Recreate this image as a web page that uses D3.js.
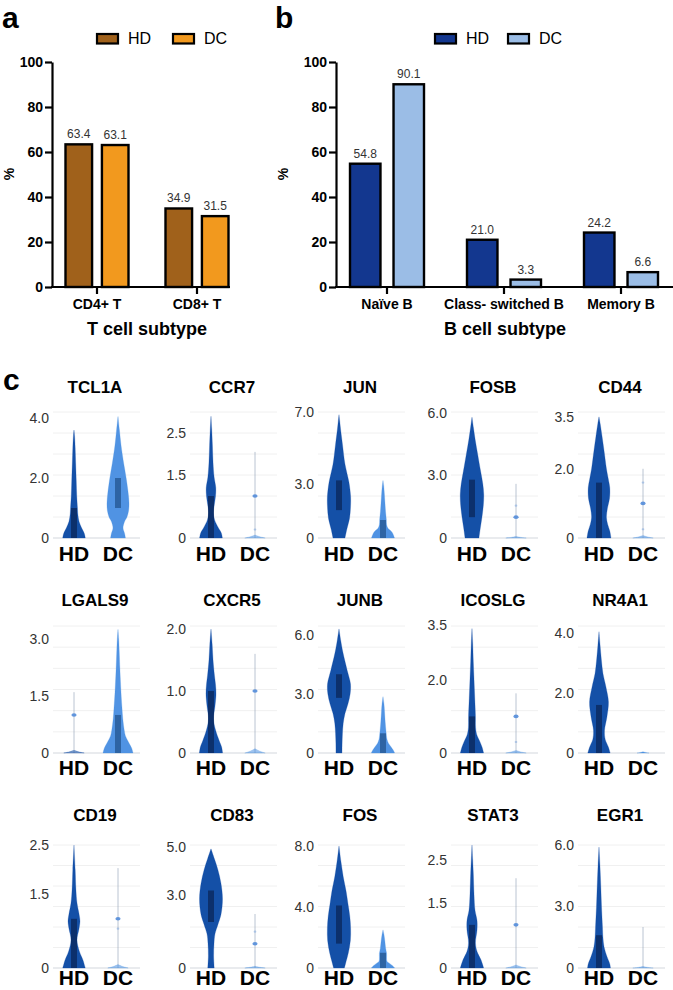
<!DOCTYPE html>
<html><head><meta charset="utf-8">
<script src="https://cdn.jsdelivr.net/npm/d3@7"></script>
<style>
body{margin:0;background:#fff;}
svg{display:block;font-family:"Liberation Sans",Arial,Helvetica,sans-serif;}
</style></head>
<body><svg id="c" width="673" height="990"></svg>
<script>
// ---------- DATA ----------
const series = ["HD","DC"];
const tCats = ["CD4+ T","CD8+ T"];
const tHD = [63.4, 34.9];
const tDC = [63.1, 31.5];
const bCats = ["Naïve B","Class- switched B","Memory B"];
const bHD = [54.8, 21.0, 24.2];
const bDC = [90.1, 3.3, 6.6];
const barTicks = [0,20,40,60,80,100];

const genes = ["TCL1A","CCR7","JUN","FOSB","CD44",
               "LGALS9","CXCR5","JUNB","ICOSLG","NR4A1",
               "CD19","CD83","FOS","STAT3","EGR1"];
const yTop = [4.2,3.0,7.0,6.05,3.64, 3.34,2.05,6.45,3.47,4.23, 2.5,5.08,8.07,2.85,6.0];
const yTickVals = [[0,2,4],[0,1.5,2.5],[0,3,7],[0,3,6],[0,2,3.5],
                   [0,1.5,3],[0,1,2],[0,3,6],[0,2,3.5],[0,2,4],
                   [0,1.5,2.5],[0,3,5],[0,4,8],[0,1.5,2.5],[0,3,6]];
// relative density profiles [value, density]
const SPARSE = [[0,0.85],[0.03,0.4],[0.07,0]];
const hdProfiles = [
 [[0,0.94],[0.15,0.86],[0.35,0.62],[0.55,0.42],[0.8,0.32],[1.0,0.29],[1.4,0.23],[1.9,0.19],[2.5,0.14],[3.0,0.1],[3.4,0.05],[3.6,0]],
 [[0,0.95],[0.12,0.86],[0.25,0.6],[0.43,0.3],[0.6,0.2],[0.8,0.28],[1.0,0.38],[1.2,0.4],[1.45,0.26],[1.8,0.17],[2.2,0.12],[2.6,0.06],[2.9,0]],
 [[0,0.5],[0.5,0.66],[1.1,0.88],[1.7,0.96],[2.3,0.97],[3.1,0.83],[4.1,0.5],[5.2,0.29],[6.0,0.14],[6.5,0.06],[6.85,0]],
 [[0,0.58],[0.5,0.7],[1.0,0.83],[1.6,0.95],[2.1,0.98],[2.6,0.9],[3.2,0.72],[4.0,0.48],[4.7,0.27],[5.3,0.12],[5.8,0]],
 [[0,1.0],[0.2,0.9],[0.4,0.72],[0.6,0.62],[0.85,0.7],[1.15,0.88],[1.45,0.9],[1.7,0.78],[2.0,0.62],[2.5,0.43],[2.95,0.25],[3.3,0.1],[3.5,0]],
 SPARSE,
 [[0,0.97],[0.1,0.88],[0.2,0.68],[0.37,0.38],[0.55,0.21],[0.75,0.33],[0.95,0.42],[1.1,0.38],[1.25,0.29],[1.5,0.17],[1.75,0.1],[2.0,0]],
 [[0,0.25],[0.5,0.26],[1.0,0.29],[1.5,0.35],[2.0,0.5],[2.5,0.75],[3.0,0.93],[3.5,0.96],[4.2,0.68],[5.1,0.33],[5.7,0.15],[6.3,0]],
 [[0,0.97],[0.15,0.85],[0.31,0.66],[0.5,0.4],[0.7,0.3],[1.0,0.29],[1.5,0.23],[2.0,0.17],[2.5,0.11],[3.0,0.06],[3.4,0]],
 [[0,0.93],[0.2,0.78],[0.45,0.52],[0.75,0.46],[1.2,0.66],[1.7,0.79],[2.2,0.58],[2.65,0.33],[3.1,0.2],[3.6,0.09],[4.04,0]],
 [[0,0.94],[0.16,0.75],[0.33,0.46],[0.57,0.25],[0.8,0.42],[0.95,0.5],[1.1,0.42],[1.32,0.25],[1.6,0.16],[2.0,0.1],[2.5,0]],
 [[0,0.27],[0.5,0.22],[1.0,0.25],[1.4,0.33],[1.8,0.58],[2.2,0.83],[2.85,0.96],[3.5,0.83],[4.05,0.58],[4.5,0.29],[4.92,0]],
 [[0,0.45],[0.3,0.55],[1.0,0.78],[1.8,0.95],[2.6,0.97],[3.4,0.9],[4.2,0.75],[5.0,0.6],[6.0,0.35],[7.0,0.16],[8.0,0]],
 [[0,0.97],[0.19,0.75],[0.38,0.42],[0.58,0.29],[0.88,0.42],[1.1,0.42],[1.34,0.25],[1.7,0.17],[2.2,0.11],[2.5,0.06],[2.85,0]],
 [[0,0.96],[0.2,0.9],[0.55,0.67],[1.04,0.42],[1.5,0.33],[2.0,0.29],[3.0,0.21],[4.0,0.15],[5.0,0.08],[5.9,0]]
];
const dcProfiles = [
 [[0,0.62],[0.15,0.55],[0.33,0.42],[0.55,0.55],[0.7,0.75],[0.9,0.88],[1.15,0.92],[1.5,0.85],[2.0,0.68],[2.5,0.47],[3.1,0.25],[3.6,0.12],[4.05,0]],
 SPARSE,
 [[0,0.96],[0.2,0.85],[0.35,0.72],[0.55,0.4],[0.75,0.3],[1.0,0.28],[1.5,0.21],[2.0,0.16],[2.5,0.11],[2.9,0.06],[3.2,0]],
 SPARSE,
 SPARSE,
 [[0,1.25],[0.12,1.15],[0.3,0.85],[0.45,0.62],[0.6,0.52],[0.9,0.4],[1.2,0.33],[1.6,0.25],[2.2,0.16],[2.7,0.1],[3.0,0.06],[3.25,0]],
 SPARSE,
 [[0,0.97],[0.15,0.85],[0.32,0.66],[0.5,0.45],[0.7,0.33],[1.1,0.25],[1.6,0.18],[2.1,0.13],[2.5,0.08],[2.86,0]],
 SPARSE,
 [[0,0.5],[0.02,0.2],[0.04,0]],
 SPARSE,
 SPARSE,
 [[0,0.97],[0.15,0.8],[0.3,0.55],[0.45,0.33],[0.7,0.3],[0.96,0.3],[1.3,0.22],[1.8,0.15],[2.2,0.08],[2.5,0]],
 SPARSE,
 SPARSE
];
const hdBox = [[0,1.0],[0,1.0],[1.55,3.2],[1.0,2.8],[0,1.6], null,[0,1.0],[2.8,4.0],[0,1.0],[0,1.6], [0,1.0],[1.9,3.2],[1.6,4.1],[0,1.0],[0,1.6]];
const dcBox = [[1.0,2.0],null,[0,1.0],null,null, [0,1.0],null,[0,1.0],null,null, null,null,[0,1.0],null,null];
const hdWhisker = [null,null,null,null,null, 1.6,null,null,null,null, null,null,null,null,null];
const dcWhisker = [null,2.05,null,2.6,2.0, null,1.6,null,1.63,null, 2.03,2.23,null,2.08,2.0];
// dots: [value, strong(1)/faint(0)]
const hdDots = [[],[],[],[],[], [[1.0,1]],[],[],[],[], [],[],[],[],[]];
const dcDots = [[],[[1.0,1],[0.2,0]],[],[[1.0,1],[1.55,0]],[[1.0,1],[1.6,0],[0.25,0]],
                [],[[1.0,1]],[],[[1.0,1],[0.3,0]],[],
                [[1.0,1],[0.8,0]],[[1.0,1],[1.5,0]],[],[[1.0,1]],[]];

// ---------- STYLE / LAYOUT ----------
const svg = d3.select("#c");
svg.append("rect").attr("width",673).attr("height",990).attr("fill","#fff");

function panelLetter(t,x,y){
  svg.append("text").attr("x",x).attr("y",y).text(t)
    .attr("font-size",30).attr("font-weight","bold").attr("fill","#000");
}

function barPanel(o){
  const g = svg.append("g");
  const y = d3.scaleLinear().domain([0,100]).range([287,62]);
  const x = d3.scaleBand().domain(o.cats).range(o.xRange);
  const xi = d3.scaleBand().domain(series).range([-o.span/2,o.span/2]).paddingInner(o.pad);
  const ya = g.append("g").attr("transform",`translate(${o.axisX},0)`)
    .call(d3.axisLeft(y).tickValues(barTicks).tickSize(7).tickSizeOuter(0).tickPadding(2));
  ya.select(".domain").attr("stroke","#000").attr("stroke-width",2.2);
  ya.selectAll(".tick line").attr("stroke","#000").attr("stroke-width",2.2);
  ya.selectAll(".tick text").attr("font-size",14).attr("font-weight","bold").attr("fill","#000")
    .attr("font-family","Liberation Sans,Arial,sans-serif");
  const xa = g.append("g").attr("transform",`translate(0,${y(0)})`)
    .call(d3.axisBottom(x).tickSize(7).tickSizeOuter(0).tickPadding(5));
  xa.select(".domain").remove();
  xa.selectAll(".tick line").attr("stroke","#000").attr("stroke-width",2.2);
  xa.selectAll(".tick text").attr("font-size",14).attr("font-weight","bold").attr("fill","#000")
    .attr("font-family","Liberation Sans,Arial,sans-serif");
  g.append("line").attr("x1",o.axisX-1).attr("x2",o.axisEnd).attr("y1",y(0)).attr("y2",y(0))
    .attr("stroke","#000").attr("stroke-width",2.2);
  o.cats.forEach((c,i)=>{
    series.forEach((s,j)=>{
      const v = (j===0?o.hd:o.dc)[i];
      const bx = x(c)+x.bandwidth()/2+xi(s);
      g.append("rect").attr("x",bx).attr("y",y(v)).attr("width",xi.bandwidth())
        .attr("height",y(0)-y(v)).attr("fill",o.colors[j]).attr("stroke","#000").attr("stroke-width",2.4);
      g.append("text").attr("x",bx+xi.bandwidth()/2).attr("y",y(v)-6).attr("text-anchor","middle")
        .attr("font-size",12).attr("fill","#333").text(v.toFixed(1));
    });
  });
  g.append("text").attr("transform",`translate(${o.pctX},${174}) rotate(-90)`).attr("text-anchor","middle")
    .attr("font-size",14).attr("font-weight","bold").text("%");
  g.append("text").attr("x",o.titleX).attr("y",335).attr("text-anchor","middle")
    .attr("font-size",18).attr("font-weight","bold").text(o.title);
  series.forEach((s,j)=>{
    const lx = o.legX + j*o.legStep;
    g.append("rect").attr("x",lx).attr("y",34).attr("width",21).attr("height",9.5)
      .attr("fill",o.colors[j]).attr("stroke","#000").attr("stroke-width",2.2);
    g.append("text").attr("x",lx+31).attr("y",43.5).attr("font-size",16).attr("fill","#000").text(s);
  });
}

panelLetter("a",2,28);
panelLetter("b",275,28);
panelLetter("c",3,390);

barPanel({cats:tCats,hd:tHD,dc:tDC,colors:["#a0611b","#f2991e"],xRange:[47,247],span:63,pad:0.27,
  axisX:52,axisEnd:230,pctX:14,titleX:147,title:"T cell subtype",legX:97,legStep:76});
barPanel({cats:bCats,hd:bHD,dc:bDC,colors:["#13378f","#9bbde6"],xRange:[328.5,679.5],span:74,pad:0.3,
  axisX:336,axisEnd:673,pctX:288,titleX:505,title:"B cell subtype",legX:435,legStep:73});

// ---------- VIOLINS ----------
const colX = [0,137,265,398,525];
const rowTopPx = [412,626,845];
const rowBotPx = [538,753,968];
const rowTitleY = [393,606,821];
const rowLabY = [561,775,985];
const wScale = d3.scaleLinear().domain([0,1]).range([0,12]);
const vcol = {HD:"#0c4aa4", DC:"#4a90e2"};
const boxCol = {HD:"#0a2658", DC:"#23548f"};

genes.forEach((gname,i)=>{
  const r = Math.floor(i/5), c = i%5;
  const ox = colX[c];
  const g = svg.append("g");
  const y = d3.scaleLinear().domain([0,yTop[i]]).range([rowBotPx[r],rowTopPx[r]]);
  const x = d3.scalePoint().domain(series).range([ox+74, ox+118]);
  d3.range(1,7).forEach(k=>{
    const v = yTop[i]*k/6;
    g.append("line").attr("x1",ox+53).attr("x2",ox+140).attr("y1",y(v)).attr("y2",y(v))
      .attr("stroke","#f0f0f0").attr("stroke-width",1);
  });
  g.append("line").attr("x1",ox+53).attr("x2",ox+140).attr("y1",y(0)).attr("y2",y(0))
    .attr("stroke","#e2e4e8").attr("stroke-width",1.5);
  yTickVals[i].forEach(t=>{
    g.append("text").attr("x",ox+49).attr("y",y(t)).attr("dy","0.35em").attr("text-anchor","end")
      .attr("font-size",14).attr("fill","#333").text(t===0?"0":t.toFixed(1));
  });
  g.append("text").attr("x",ox+95).attr("y",rowTitleY[r]).attr("text-anchor","middle")
    .attr("font-size",17).attr("font-weight","bold").text(gname);
  const sets = [
    {s:"HD",prof:hdProfiles[i],box:hdBox[i],wh:hdWhisker[i],dots:hdDots[i]},
    {s:"DC",prof:dcProfiles[i],box:dcBox[i],wh:dcWhisker[i],dots:dcDots[i]}
  ];
  sets.forEach(d=>{
    const cx = x(d.s);
    const sparse = d.prof===SPARSE;
    if(d.wh!=null){
      g.append("line").attr("x1",cx).attr("x2",cx).attr("y1",y(0)).attr("y2",y(d.wh))
        .attr("stroke","#8e9cb4").attr("stroke-opacity",0.6).attr("stroke-width",1);
    }
    const area = d3.area().curve(d3.curveCatmullRom)
      .y(p=>y(p[0])).x0(p=>cx-wScale(p[1])).x1(p=>cx+wScale(p[1]));
    g.append("path").attr("d",area(d.prof)).attr("fill",vcol[d.s])
      .attr("fill-opacity",sparse?0.55:0.97).attr("stroke",vcol[d.s]).attr("stroke-opacity",0.4).attr("stroke-width",0.6);
    if(d.box){
      g.append("rect").attr("x",cx-3).attr("width",6).attr("y",y(d.box[1]))
        .attr("height",y(d.box[0])-y(d.box[1])).attr("fill",boxCol[d.s]).attr("fill-opacity",0.75);
    }
    d.dots.forEach(p=>{
      g.append("ellipse").attr("cx",cx).attr("cy",y(p[0])).attr("rx",p[1]?2.6:1.4).attr("ry",p[1]?1.8:1.1)
        .attr("fill","#4a86d8").attr("fill-opacity",p[1]?0.85:0.35);
    });
    g.append("text").attr("x",cx).attr("y",rowLabY[r]).attr("text-anchor","middle")
      .attr("font-size",21).attr("font-weight","bold").attr("fill","#000").text(d.s);
  });
});
</script></body></html>
